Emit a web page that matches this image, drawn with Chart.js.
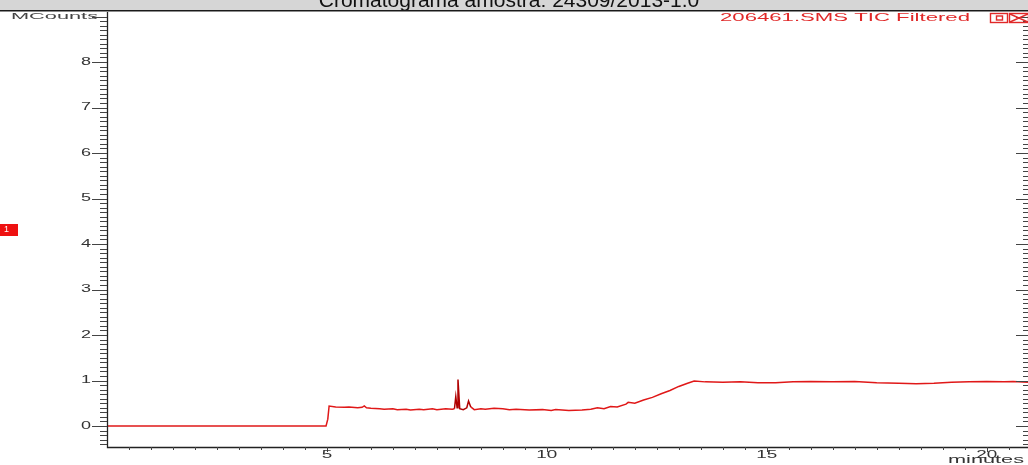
<!DOCTYPE html>
<html>
<head>
<meta charset="utf-8">
<script src="https://cdn.jsdelivr.net/npm/chart.js@4/dist/chart.umd.min.js"></script>
<style>
  html, body { margin: 0; padding: 0; background: #fff; overflow: hidden; }
  #chart { display: block; }
</style>
</head>
<body>
<canvas id="chart" width="1028" height="465"></canvas>
<script>
// retention time (minutes) and signal (MCounts)
const times = [0, 4.98, 5.0, 5.02, 5.05, 5.2, 5.4, 5.5, 5.7, 5.8, 5.85, 5.9, 6.0, 6.2, 6.3, 6.5,
    6.6, 6.8, 6.9, 7.1, 7.2, 7.4, 7.5, 7.7, 7.85, 7.9, 7.93, 7.96, 7.98, 8.02, 8.1, 8.18, 8.22,
    8.27, 8.35, 8.5, 8.6, 8.8, 9.0, 9.15, 9.3, 9.6, 9.9, 10.1, 10.2, 10.5, 10.8, 11.0, 11.15,
    11.3, 11.45, 11.6, 11.8, 11.85, 12.0, 12.2, 12.4, 12.6, 12.8, 13.0, 13.2, 13.35, 13.6, 14.0,
    14.4, 14.8, 15.2, 15.6, 16.0, 16.5, 17.0, 17.5, 18.0, 18.4, 18.8, 19.2, 19.6, 20.0, 20.4,
    20.6, 20.94];
const mcounts = [0, 0, 0, 0.15, 0.44, 0.42, 0.41, 0.42, 0.40, 0.41, 0.44, 0.40, 0.39, 0.38,
    0.37, 0.38, 0.36, 0.37, 0.35, 0.37, 0.36, 0.38, 0.36, 0.38, 0.37, 0.38, 0.65, 0.40, 1.02,
    0.38, 0.36, 0.40, 0.55, 0.42, 0.36, 0.38, 0.37, 0.39, 0.38, 0.36, 0.37, 0.35, 0.36, 0.34,
    0.36, 0.34, 0.35, 0.37, 0.40, 0.38, 0.43, 0.42, 0.48, 0.52, 0.50, 0.57, 0.63, 0.71, 0.78,
    0.87, 0.94, 0.99, 0.97, 0.96, 0.97, 0.95, 0.95, 0.97, 0.98, 0.97, 0.98, 0.95, 0.94, 0.93,
    0.94, 0.96, 0.97, 0.98, 0.97, 0.98, 0.96];

const yTickLabels = [0, 1, 2, 3, 4, 5, 6, 7, 8];
const xTickLabels = [5, 10, 15, 20];

const titleText = "Cromatograma amostra: 24309/2013-1.0";
const legendText = "206461.SMS TIC Filtered";
const yUnitText = "MCounts";
const xUnitText = "minutes";

function stretchText(ctx, text, left, midY, width, size, color) {
    ctx.save();
    ctx.font = size + "px 'Liberation Sans', Arial, sans-serif";
    ctx.fillStyle = color;
    ctx.textAlign = "left";
    ctx.textBaseline = "middle";
    const w = ctx.measureText(text).width;
    ctx.translate(left, midY);
    ctx.scale(width / w, 1);
    ctx.fillText(text, 0, 0);
    ctx.restore();
}

const decorations = {
    id: "decorations",
    afterDraw(chart) {
        const ctx = chart.ctx;
        const area = chart.chartArea;
        const xs = chart.scales.x;
        const ys = chart.scales.y;
        const W = chart.width;

        // title band
        ctx.save();
        ctx.fillStyle = "#d6d6d6";
        ctx.fillRect(0, 0, W, 10);
        ctx.beginPath();
        ctx.rect(0, 0, W, 10);
        ctx.clip();
        ctx.font = "21px 'Liberation Sans', Arial, sans-serif";
        ctx.fillStyle = "#111";
        ctx.textAlign = "center";
        ctx.textBaseline = "alphabetic";
        ctx.fillText(titleText, 509, 7);
        ctx.restore();
        ctx.fillStyle = "#1a1a1a";
        ctx.fillRect(0, 10, W, 1.5);

        // axis lines
        ctx.save();
        ctx.strokeStyle = "#222";
        ctx.lineWidth = 1.3;
        ctx.beginPath();
        ctx.moveTo(area.left + 0.5, 12);
        ctx.lineTo(area.left + 0.5, area.bottom + 0.5);
        ctx.lineTo(W, area.bottom + 0.5);
        ctx.stroke();

        // y ticks (left and right edge), 0.1 step
        ctx.strokeStyle = "#444";
        ctx.lineWidth = 1;
        ctx.beginPath();
        for (let i = -4; i <= 90; i++) {
            const py = Math.round(ys.getPixelForValue(i / 10)) + 0.5;
            const major = i % 10 === 0;
            ctx.moveTo(area.left, py);
            ctx.lineTo(area.left - (major ? 15 : 7), py);
            ctx.moveTo(W, py);
            ctx.lineTo(W - (major ? 12 : 5), py);
        }
        // x ticks, 0.5 step
        for (let i = 1; i <= 41; i++) {
            const px = Math.round(xs.getPixelForValue(i / 2)) + 0.5;
            const major = i % 10 === 0;
            ctx.moveTo(px, area.bottom);
            ctx.lineTo(px, area.bottom + (major ? 5 : 3));
        }
        ctx.stroke();
        ctx.restore();

        // tick labels
        yTickLabels.forEach(v => {
            const py = ys.getPixelForValue(v);
            const t = String(v);
            stretchText(ctx, t, 91 - 10 * t.length, py, 10 * t.length, 10, "#333");
        });
        xTickLabels.forEach(v => {
            const px = xs.getPixelForValue(v);
            const t = String(v);
            const w = 10.5 * t.length;
            stretchText(ctx, t, px - w / 2, 455, w, 10, "#333");
        });

        // unit labels
        stretchText(ctx, yUnitText, 11, 17, 87, 9, "#444");
        stretchText(ctx, xUnitText, 948, 460, 76, 11, "#333");

        // legend
        stretchText(ctx, legendText, 720, 18, 250, 11, "#e02828");
        ctx.save();
        ctx.strokeStyle = "#e02828";
        ctx.lineWidth = 1.4;
        ctx.strokeRect(990.5, 13.5, 17, 9);
        ctx.strokeRect(996.5, 16, 6, 4);
        ctx.strokeRect(1009.5, 13.5, 19, 9);
        ctx.beginPath();
        ctx.moveTo(1010, 14);
        ctx.lineTo(1028, 22);
        ctx.moveTo(1010, 22);
        ctx.lineTo(1028, 14);
        ctx.stroke();

        // peak marker box
        ctx.fillStyle = "#ee1111";
        ctx.fillRect(0, 224, 18, 12);
        ctx.restore();
        stretchText(ctx, "1", 4, 230, 5, 9, "#fff");
    }
};

new Chart(document.getElementById("chart").getContext("2d"), {
    type: "line",
    data: {
        datasets: [
            {
                label: legendText,
                data: times.map((t, i) => ({ x: t, y: mcounts[i] })),
                borderColor: "#e01818",
                borderWidth: 1.5,
                pointRadius: 0,
                fill: false,
                tension: 0,
                segment: {
                    borderColor: (c) =>
                        c.p0.parsed.x >= 7.9 && c.p1.parsed.x <= 8.3 ? "#b00000" : "#e01818",
                },
            },
        ],
    },
    options: {
        responsive: false,
        animation: false,
        parsing: false,
        layout: { padding: { top: 12, left: 0, right: 0, bottom: 0 } },
        plugins: {
            legend: { display: false },
            title: { display: false },
            tooltip: { enabled: false },
        },
        scales: {
            x: {
                type: "linear",
                min: 0,
                max: 20.94,
                grid: { display: false, drawTicks: false },
                border: { display: false },
                ticks: { display: false },
                afterBuildTicks: (s) => { s.ticks = xTickLabels.map(v => ({ value: v })); },
                afterFit: (s) => { s.height = 18; },
            },
            y: {
                type: "linear",
                min: -0.4615,
                max: 9.1,
                grid: { display: false, drawTicks: false },
                border: { display: false },
                ticks: { display: false },
                afterBuildTicks: (s) => { s.ticks = yTickLabels.map(v => ({ value: v })); },
                afterFit: (s) => { s.width = 107; },
            },
        },
    },
    plugins: [decorations],
});
</script>
</body>
</html>
